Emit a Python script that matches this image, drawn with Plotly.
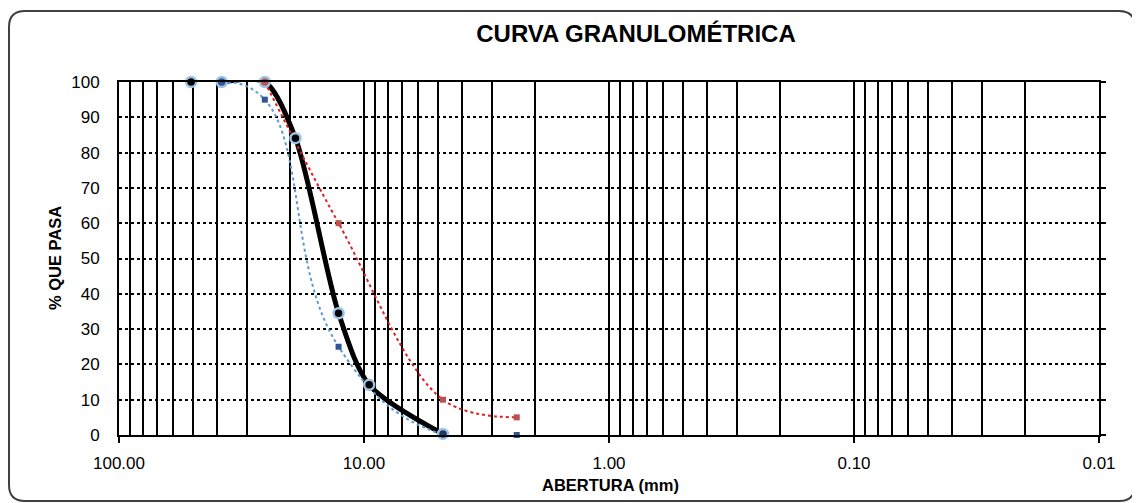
import plotly.graph_objects as go

# ---- data ----
sieve_mm = [50.8, 38.1, 25.4, 19.05, 12.7, 9.525, 4.76]
pct_pass = [100, 100, 100, 84.1, 34.5, 14.2, 0.3]
marker_colors = ["#000000", "#2F5597", "#C0504D", "#000000", "#000000", "#000000", "#1F3864"]

upper_mm = [25.4, 12.7, 4.76, 2.38]
upper_pct = [100, 60, 10, 5]

lower_mm = [38.1, 25.4, 12.7, 4.76, 2.38]
lower_pct = [100, 95, 25, 0, 0]

major_vals = [100, 10, 1, 0.1, 0.01]
major_text = ["100.00", "10.00", "1.00", "0.10", "0.01"]
minor_vals = [m * d for d in [10, 1, 0.1, 0.01] for m in range(2, 10)]

# ---- geometry helpers (layout only) ----
OFF = 8  # page body margin
W, H = 1140 - OFF, 503 - OFF
L, T = 119 - OFF, 82 - OFF
R = W - (1099 - OFF)
B = H - (435 - OFF)
PW, PH = W - L - R, H - T - B


def px(x):  # reference page pixel -> paper
    return (x - OFF - L) / PW


def py(y):
    return (H - B - (y - OFF)) / PH


FONT = "Liberation Sans, Arial, sans-serif"

fig = go.Figure()

# black main curve (line)
fig.add_trace(go.Scatter(
    x=sieve_mm[1:], y=pct_pass[1:], mode="lines",
    line=dict(color="black", width=5, shape="spline", smoothing=0.8),
    showlegend=False, hoverinfo="skip"))

# lower limit (blue)
fig.add_trace(go.Scatter(
    x=lower_mm, y=lower_pct, mode="lines+markers",
    line=dict(color="#5B9BD5", width=2, dash="dot", shape="spline", smoothing=1.3),
    marker=dict(symbol="square", size=6, color="#2F5597"),
    cliponaxis=False, showlegend=False))

# upper limit (red)
fig.add_trace(go.Scatter(
    x=upper_mm, y=upper_pct, mode="lines+markers",
    line=dict(color="#E02020", width=2, dash="dot", shape="spline"),
    marker=dict(symbol="square", size=6, color="#C0504D"),
    cliponaxis=False, showlegend=False))

# black curve markers on top
fig.add_trace(go.Scatter(
    x=sieve_mm, y=pct_pass, mode="markers",
    marker=dict(size=10, color=marker_colors, line=dict(color="#9DC3E6", width=2.5)),
    cliponaxis=False, showlegend=False))

# invisible trace for right-side y ticks
fig.add_trace(go.Scatter(x=[10], y=[50], yaxis="y2", mode="markers",
                         marker=dict(opacity=0), showlegend=False, hoverinfo="skip"))

# outer rounded frame
x0, y0, x1, y1, r = 9, 11, 1135, 501, 16
path = (f"M {px(x0 + r)} {py(y0)} L {px(x1 - r)} {py(y0)} "
        f"Q {px(x1)} {py(y0)} {px(x1)} {py(y0 + r)} "
        f"L {px(x1)} {py(y1 - r)} Q {px(x1)} {py(y1)} {px(x1 - r)} {py(y1)} "
        f"L {px(x0 + r)} {py(y1)} Q {px(x0)} {py(y1)} {px(x0)} {py(y1 - r)} "
        f"L {px(x0)} {py(y0 + r)} Q {px(x0)} {py(y0)} {px(x0 + r)} {py(y0)} Z")

fig.update_layout(
    width=W, height=H,
    margin=dict(l=L, r=R, t=T, b=B),
    paper_bgcolor="white", plot_bgcolor="white",
    font=dict(family=FONT, color="black", size=16),
    title=dict(text="<b>CURVA GRANULOMÉTRICA</b>", x=(636 - OFF) / W, xanchor="center",
               y=1 - (34 - OFF) / H, yanchor="middle",
               font=dict(family=FONT, size=24, color="black")),
    xaxis=dict(
        type="log", range=[2, -2],
        tickmode="array", tickvals=major_vals, ticktext=major_text,
        ticks="outside", ticklen=6, tickwidth=1.5, tickcolor="black",
        showgrid=True, gridcolor="black", gridwidth=1.5,
        minor=dict(tickmode="array", tickvals=minor_vals, showgrid=True,
                   gridcolor="black", gridwidth=1.5, ticks=""),
        showline=True, linecolor="black", linewidth=2, mirror=True,
        zeroline=False, ticklabelstandoff=6,
        tickfont=dict(family=FONT, size=17),
    ),
    yaxis=dict(
        range=[0, 100], dtick=10, tick0=0,
        showgrid=True, gridcolor="black", gridwidth=1.5, griddash="dot",
        ticks="", showline=True, linecolor="black", linewidth=2, mirror=True,
        zeroline=False, ticklabelstandoff=14,
        tickfont=dict(family=FONT, size=17),
    ),
    yaxis2=dict(
        range=[0, 100], dtick=10, overlaying="y", side="right",
        showticklabels=False, ticks="outside", ticklen=6, tickwidth=1.5,
        tickcolor="black", showgrid=False, zeroline=False, showline=False,
    ),
    shapes=[dict(type="path", path=path, xref="paper", yref="paper",
                 line=dict(color="#404040", width=2), layer="below")],
    annotations=[
        dict(text="<b>ABERTURA (mm)</b>", x=px(610), y=py(485), xref="paper", yref="paper",
             showarrow=False, xanchor="center", yanchor="middle",
             font=dict(family=FONT, size=16.5, color="black")),
        dict(text="<b>% QUE PASA</b>", x=px(55), y=py(258), xref="paper", yref="paper",
             showarrow=False, xanchor="center", yanchor="middle", textangle=-90,
             font=dict(family=FONT, size=16.5, color="black")),
    ],
)

fig.write_html("out.html")
